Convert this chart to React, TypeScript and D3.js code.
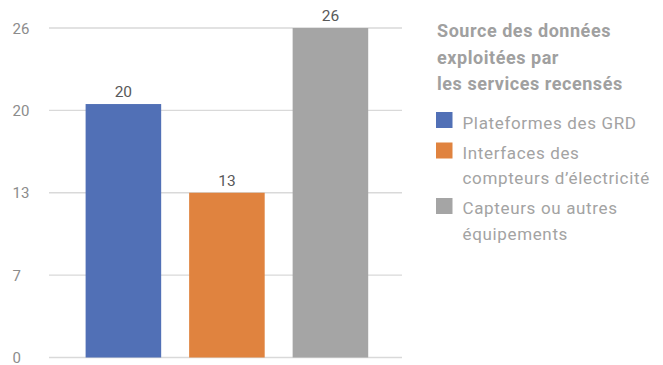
import React from "react";
import * as d3 from "d3";

const categories = ["Plateformes des GRD", "Interfaces des compteurs d’électricité", "Capteurs ou autres équipements"];
const values = [20, 13, 26];
const colors = ["#5170B6", "#E0833F", "#A5A5A5"];
const tickValues = [0, 6.5, 13, 19.5, 26];
const legendTitle = ["Source des données", "exploitées par", "les services recensés"];
const legendLines = [["Plateformes des GRD"], ["Interfaces des", "compteurs d’électricité"], ["Capteurs ou autres", "équipements"]];

const W = 663;
const H = 365;
const FONT = "Roboto, 'Open Sans', sans-serif";

export default function App() {
  const plot = { left: 49, right: 402, top: 28, bottom: 357.5 };
  const y = d3.scaleLinear().domain([0, 26]).range([plot.bottom, plot.top]);
  const x = d3
    .scaleBand<string>()
    .domain(categories)
    .range([plot.left, plot.right])
    .paddingInner(0.27)
    .paddingOuter(0.34)
    .align(0.52);
  const fmt = (v: number) => String(Math.round(v));

  const legendX = 436;
  const swatchY = [112, 142.5, 198];
  const textBase = [[128.5], [158.5, 184], [214, 239.5]];

  return (
    <svg
      width={W}
      height={H}
      style={{ position: "fixed", left: 0, top: 0, background: "#fff" }}
      fontFamily={FONT}
    >
      {tickValues.map((t) => (
        <g key={t}>
          <line x1={plot.left} x2={plot.right} y1={y(t)} y2={y(t)} stroke="#D9D9D9" strokeWidth={1.3} />
          <text x={12.5} y={Math.min(y(t) + 5.5, 362.5)} fontSize={15} fill="#8C8C8C">
            {fmt(t)}
          </text>
        </g>
      ))}
      {categories.map((c, i) => (
        <g key={c}>
          <rect x={x(c)} y={y(values[i])} width={x.bandwidth()} height={plot.bottom - y(values[i])} fill={colors[i]} />
          <text
            x={(x(c) as number) + x.bandwidth() / 2}
            y={y(values[i]) - 7}
            textAnchor="middle"
            fontSize={15.5}
            fill="#595959"
          >
            {fmt(values[i])}
          </text>
        </g>
      ))}
      {legendTitle.map((l, i) => (
        <text key={l} x={437} y={37 + i * 26.5} fontSize={18} fontWeight={700} letterSpacing={0.55} fill="#A0A0A0">
          {l}
        </text>
      ))}
      {legendLines.map((lines, i) => (
        <g key={i}>
          <rect x={legendX} y={swatchY[i]} width={16.5} height={16} fill={colors[i]} />
          {lines.map((l, j) => (
            <text key={l} x={462.5} y={textBase[i][j]} fontSize={17} letterSpacing={0.65} fill="#A3A3A3">
              {l}
            </text>
          ))}
        </g>
      ))}
    </svg>
  );
}
